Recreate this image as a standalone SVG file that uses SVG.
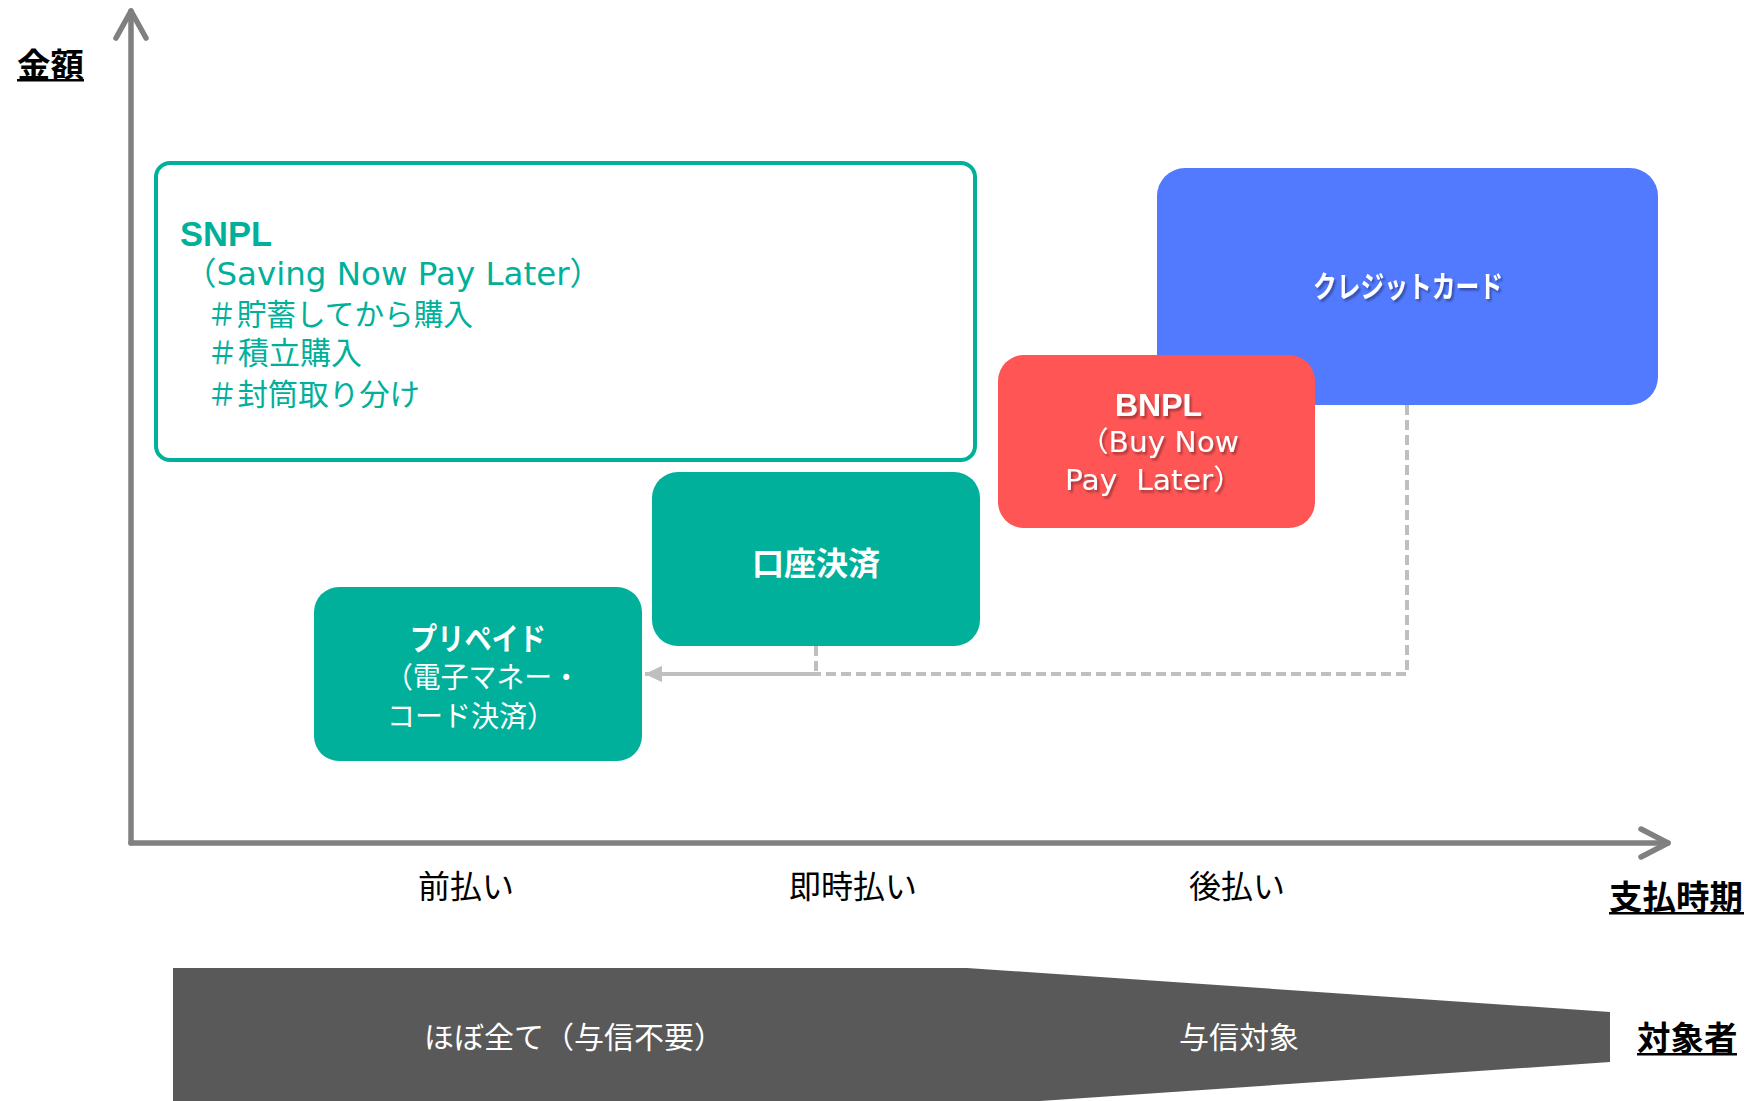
<svg xmlns="http://www.w3.org/2000/svg" width="1754" height="1101" viewBox="0 0 1754 1101">
  <defs>
    <style>
      .jp { font-family: "Noto Sans CJK JP", sans-serif; }
      .lat { font-family: "DejaVu Sans", "Noto Sans CJK JP", sans-serif; }
      .latb { font-family: "Liberation Sans", "Noto Sans CJK JP", sans-serif; font-weight: bold; }
      .axislbl { font-family: "Noto Sans CJK JP", sans-serif; font-size: 32px; fill: #000; text-anchor: middle; }
      .title { font-family: "Noto Sans CJK JP", sans-serif; font-size: 33.5px; font-weight: bold; fill: #000; }
      .teal { fill: #00B09B; }
      .wt { fill: #FFFFFF; }
      .axis { stroke: #808080; stroke-width: 5.5; fill: none; stroke-linecap: round; stroke-linejoin: round; }
      .conn { stroke: #BFBFBF; stroke-width: 4; fill: none; stroke-dasharray: 10 5; }
      .uline { fill: #000; }
    </style>
    <filter id="sh" x="-10%" y="-30%" width="130%" height="160%">
      <feDropShadow dx="2" dy="2.5" stdDeviation="1.2" flood-color="#000" flood-opacity="0.35"/>
    </filter>
    <marker id="arr" markerUnits="userSpaceOnUse" markerWidth="18" markerHeight="16" refX="17" refY="8" orient="auto">
      <path d="M0,0 L17,8 L0,16 z" fill="#BFBFBF"/>
    </marker>
  </defs>

  <!-- axes -->
  <g id="axes">
    <path class="axis" d="M131,843 L131,11"/>
    <path class="axis" d="M116,38 L131,11 L146,38"/>
    <path class="axis" d="M131,843 L1668,843"/>
    <path class="axis" d="M1641,829 L1668,843 L1641,857"/>
    <text class="title" x="17" y="77">金額</text>
    <rect class="uline" x="17" y="79" width="67" height="2.5"/>
    <text class="title" x="1609" y="909">支払時期</text>
    <rect class="uline" x="1609" y="912" width="135" height="2.5"/>
    <text class="axislbl" x="466" y="898">前払い</text>
    <text class="axislbl" x="853" y="898">即時払い</text>
    <text class="axislbl" x="1237" y="898">後払い</text>
  </g>

  <!-- connectors -->
  <g id="connectors">
    <path class="conn" d="M1407,405 L1407,674 L645,674" marker-end="url(#arr)"/>
    <path class="conn" d="M816,646 L816,674 L645,674" marker-end="url(#arr)"/>
  </g>

  <g id="snpl">
    <rect x="156" y="163" width="819" height="297" rx="14" ry="14" fill="#FFFFFF" stroke="#00B09B" stroke-width="4"/>
    <text class="latb teal" x="180" y="246" font-size="34.5">SNPL</text>
    <text class="lat teal" x="184" y="285" font-size="32" textLength="418" lengthAdjust="spacingAndGlyphs">（Saving Now Pay Later）</text>
    <text class="jp teal" x="207" y="325" font-size="30" textLength="266" lengthAdjust="spacingAndGlyphs">＃貯蓄してから購入</text>
    <text class="jp teal" x="207" y="364" font-size="31">＃積立購入</text>
    <text class="jp teal" x="207" y="405" font-size="30" textLength="213" lengthAdjust="spacingAndGlyphs">＃封筒取り分け</text>
  </g>

  <g id="credit">
    <rect x="1157" y="168" width="501" height="237" rx="28" ry="28" fill="#527AFF"/>
    <text class="jp wt" x="1408" y="297" font-size="30" font-weight="bold" text-anchor="middle" textLength="190" lengthAdjust="spacingAndGlyphs" filter="url(#sh)">クレジットカード</text>
  </g>

  <g id="bnpl">
    <rect x="998" y="355" width="317" height="173" rx="26" ry="26" fill="#FF5555"/>
    <g filter="url(#sh)">
      <text class="latb wt" x="1115" y="416" font-size="32">BNPL</text>
      <text class="lat wt" x="1079" y="452" font-size="28" textLength="160" lengthAdjust="spacingAndGlyphs">（Buy Now</text>
      <text class="lat wt" x="1065" y="490" font-size="28" xml:space="preserve" style="white-space:pre" textLength="178" lengthAdjust="spacingAndGlyphs">Pay  Later）</text>
    </g>
  </g>

  <g id="account">
    <rect x="652" y="472" width="328" height="174" rx="26" ry="26" fill="#00B09B"/>
    <text class="jp wt" x="816" y="575" font-size="32" font-weight="bold" text-anchor="middle">口座決済</text>
  </g>

  <g id="prepaid">
    <rect x="314" y="587" width="328" height="174" rx="25" ry="25" fill="#00B09B"/>
    <text class="jp wt" x="478" y="650" font-size="31" font-weight="bold" text-anchor="middle" textLength="136" lengthAdjust="spacingAndGlyphs">プリペイド</text>
    <text class="jp wt" x="385" y="688" font-size="29" textLength="195" lengthAdjust="spacingAndGlyphs">（電子マネー・</text>
    <text class="jp wt" x="387" y="727" font-size="29" textLength="168" lengthAdjust="spacingAndGlyphs">コード決済）</text>
  </g>

  <g id="target">
    <polygon points="173,968 967,968 1610,1012 1610,1062 967,1106 173,1106" fill="#595959"/>
    <text class="jp wt" x="424" y="1048" font-size="30">ほぼ全て（与信不要）</text>
    <text class="jp wt" x="1179" y="1048" font-size="30">与信対象</text>
    <text class="title" x="1637" y="1050">対象者</text>
    <rect class="uline" x="1637" y="1053" width="100" height="2.5"/>
  </g>
</svg>
